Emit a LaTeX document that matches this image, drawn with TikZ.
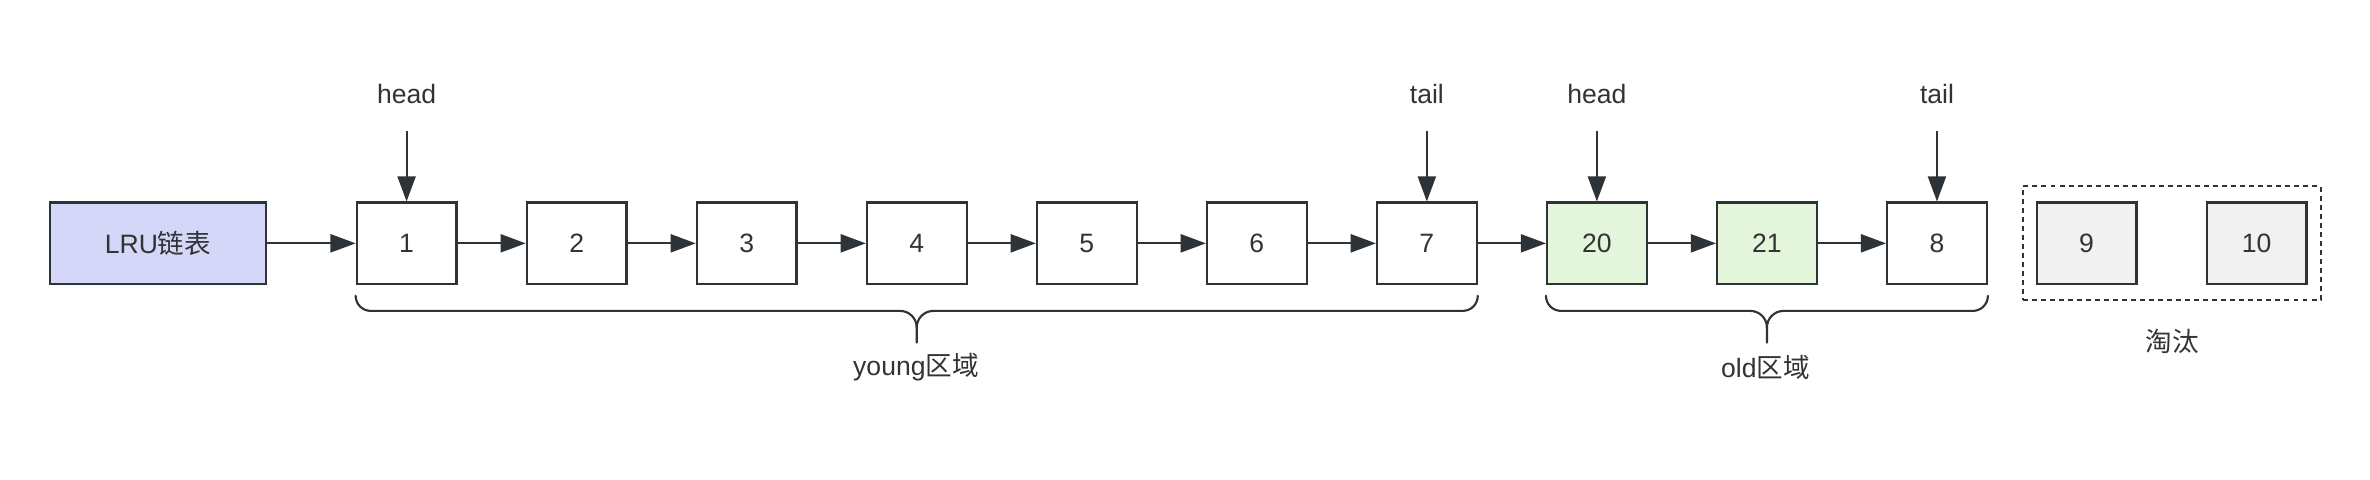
\documentclass[tikz,border=0pt]{standalone}
\usepackage{fontspec}
\setmainfont{Liberation Sans}
\newfontfamily\cjk{Noto Sans CJK SC}
\usetikzlibrary{arrows.meta, positioning, calc, fit}
\definecolor{inkgray}{RGB}{46, 51, 56}
\definecolor{textgray}{RGB}{51, 51, 51}
\definecolor{lavender}{RGB}{212, 215, 247}
\definecolor{palegreen}{RGB}{227, 245, 218}
\definecolor{lightgray}{RGB}{241, 241, 241}

\begin{document}
\begin{tikzpicture}[font=\fontsize{15}{18}\selectfont, text=textgray,
  listcell/.style={draw=inkgray, line width=1.2pt, fill=white, minimum width=1.98cm, minimum height=1.62cm, inner sep=0pt},
  nextarrow/.style={draw=inkgray, line width=1.1pt, -{Triangle[length=0.5cm, width=0.36cm]}},
  regionbrace/.style={draw=inkgray, line width=1.2pt, line cap=round, line join=round},
  dropbox/.style={draw=inkgray, line width=1.2pt, dash pattern=on 2.8pt off 2.3pt, inner xsep=0.26cm, inner ysep=0.3cm}]
  \useasboundingbox (0,-4.68) rectangle (47.04,4.83);

  % the list itself
  \node[listcell, fill=lavender, minimum width=4.29cm] (lru) at (3.135,0) {LRU{\cjk 链表}};
  \node[listcell] (n1) at (8.07,0) {1};
  \node[listcell] (n2) at (11.445,0) {2};
  \node[listcell] (n3) at (14.82,0) {3};
  \node[listcell] (n4) at (18.195,0) {4};
  \node[listcell] (n5) at (21.57,0) {5};
  \node[listcell] (n6) at (24.945,0) {6};
  \node[listcell] (n7) at (28.32,0) {7};
  \node[listcell, fill=palegreen] (n20) at (31.695,0) {20};
  \node[listcell, fill=palegreen] (n21) at (35.07,0) {21};
  \node[listcell] (n8) at (38.445,0) {8};

  \draw[nextarrow] (lru) -- (n1);
  \draw[nextarrow] (n1) -- (n2);
  \draw[nextarrow] (n2) -- (n3);
  \draw[nextarrow] (n3) -- (n4);
  \draw[nextarrow] (n4) -- (n5);
  \draw[nextarrow] (n5) -- (n6);
  \draw[nextarrow] (n6) -- (n7);
  \draw[nextarrow] (n7) -- (n20);
  \draw[nextarrow] (n20) -- (n21);
  \draw[nextarrow] (n21) -- (n8);

  % head / tail pointers
  \node (younghead) at (8.07,2.97) {head};
  \coordinate (youngheadfoot) at (8.07,2.22);
  \draw[nextarrow] (youngheadfoot) -- (n1);
  \node (youngtail) at (28.32,2.97) {tail};
  \coordinate (youngtailfoot) at (28.32,2.22);
  \draw[nextarrow] (youngtailfoot) -- (n7);
  \node (oldhead) at (31.695,2.97) {head};
  \coordinate (oldheadfoot) at (31.695,2.22);
  \draw[nextarrow] (oldheadfoot) -- (n20);
  \node (oldtail) at (38.445,2.97) {tail};
  \coordinate (oldtailfoot) at (38.445,2.22);
  \draw[nextarrow] (oldtailfoot) -- (n8);

  % evicted pages
  \node[listcell, fill=lightgray] (n9) at (41.415,0) {9};
  \node[listcell, fill=lightgray] (n10) at (44.79,0) {10};
  \node[dropbox, fit=(n9)(n10)] (dropped) {};
  \node (droplbl) at (43.11,-1.95) {\cjk 淘汰};

  % region braces
  \coordinate (youngtip) at ($(n1.south west)!0.5!(n7.south east)+(0,-1.14)$);
  \draw[regionbrace] ($(n1.south west)+(0,-0.21)$) to[out=-90,in=180] ++(0.3,-0.3)
    -- ($(youngtip)+(-0.33,0.63)$) to[out=0,in=90] ++(0.33,-0.33) -- (youngtip);
  \draw[regionbrace] ($(n7.south east)+(0,-0.21)$) to[out=-90,in=0] ++(-0.3,-0.3)
    -- ($(youngtip)+(0.33,0.63)$) to[out=180,in=90] ++(-0.33,-0.33);
  \node (younglbl) at (18.18,-2.46) {young{\cjk 区域}};

  \coordinate (oldtip) at ($(n20.south west)!0.5!(n8.south east)+(0,-1.14)$);
  \draw[regionbrace] ($(n20.south west)+(0,-0.21)$) to[out=-90,in=180] ++(0.3,-0.3)
    -- ($(oldtip)+(-0.33,0.63)$) to[out=0,in=90] ++(0.33,-0.33) -- (oldtip);
  \draw[regionbrace] ($(n8.south east)+(0,-0.21)$) to[out=-90,in=0] ++(-0.3,-0.3)
    -- ($(oldtip)+(0.33,0.63)$) to[out=180,in=90] ++(-0.33,-0.33);
  \node (oldlbl) at (35.04,-2.46) {old{\cjk 区域}};
\end{tikzpicture}
\end{document}
